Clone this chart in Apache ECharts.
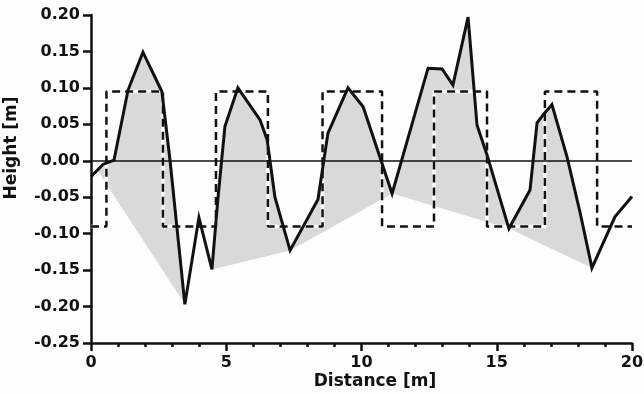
<!DOCTYPE html>
<html>
<head>
<meta charset="utf-8">
<script src="https://cdn.jsdelivr.net/npm/echarts@6/dist/echarts.min.js"></script>
<style>
  html, body { margin: 0; padding: 0; background: #fdfdfb; }
  #profile { width: 644px; height: 394px; }
</style>
</head>
<body>
<div id="profile"></div>
<script>
// measured surface profile
var distance = [0, 0.44, 0.85, 1.37, 1.92, 2.62, 2.92, 3.47, 3.99, 4.47, 4.69, 4.95, 5.43, 6.25, 6.51, 6.8,
  7.36, 8.39, 8.76, 9.5, 10.06, 11.13, 12.46, 12.98, 13.38, 13.94, 14.27, 14.64, 15.45, 16.23, 16.49,
  16.78, 17.04, 17.6, 18.08, 18.52, 19.37, 20];
var height = [-0.022, -0.005, 0.001, 0.097, 0.149, 0.095, 0.001, -0.197, -0.078, -0.149, -0.053, 0.047, 0.1,
  0.056, 0.029, -0.05, -0.123, -0.053, 0.038, 0.1, 0.074, -0.045, 0.127, 0.126, 0.104, 0.197, 0.049,
  0.008, -0.093, -0.04, 0.052, 0.066, 0.077, 0.005, -0.071, -0.147, -0.077, -0.049];

// lower edge of the shaded area
var envDistance = [0.22, 3.47, 3.99, 4.47, 7.36, 11.13, 15.45, 18.52];
var envHeight = [-0.012, -0.197, -0.078, -0.149, -0.123, -0.045, -0.093, -0.147];

// dashed square wave
var stepEdges = [0, 0.57, 2.66, 4.62, 6.54, 8.56, 10.76, 12.68, 14.64, 16.78, 18.71, 20];
var stepLevels = [-0.09, 0.095, -0.09, 0.095, -0.09, 0.095, -0.09, 0.095, -0.09, 0.095, -0.09];

var myChart = echarts.init(document.getElementById('profile'));

var profileData = distance.map(function (d, i) { return [d, height[i]]; });

var stepData = [];
for (var i = 0; i < stepLevels.length; i++) {
  stepData.push([stepEdges[i], stepLevels[i]]);
  stepData.push([stepEdges[i + 1], stepLevels[i]]);
}

// polygon: profile forward, envelope back
var fillPoly = [];
profileData.forEach(function (p) {
  if (p[0] >= envDistance[0] && p[0] <= envDistance[envDistance.length - 1]) fillPoly.push(p);
});
for (var j = envDistance.length - 1; j >= 0; j--) {
  fillPoly.push([envDistance[j], envHeight[j]]);
}

var labelFont = { color: '#111', fontFamily: 'DejaVu Sans', fontWeight: 'bold', fontSize: 16 };

option = {
  backgroundColor: '#fdfdfb',
  animation: false,
  grid: { left: 91, right: 12, top: 15, bottom: 51, containLabel: false, outerBoundsMode: 'none' },
  xAxis: {
    type: 'value',
    min: 0,
    max: 20,
    interval: 5,
    axisLine: { onZero: false, lineStyle: { color: '#111', width: 2.5 } },
    axisTick: { length: 8, lineStyle: { color: '#111', width: 2.5 } },
    minorTick: { show: true, splitNumber: 5, length: 4, lineStyle: { color: '#111', width: 2.5 } },
    splitLine: { show: false },
    axisLabel: Object.assign({ margin: 12 }, labelFont)
  },
  yAxis: {
    type: 'value',
    min: -0.25,
    max: 0.2,
    interval: 0.05,
    axisLine: { show: true, onZero: false, lineStyle: { color: '#111', width: 2.5 } },
    axisTick: { show: true, length: 8, lineStyle: { color: '#111', width: 2.5 } },
    splitLine: { show: false },
    axisLabel: Object.assign({
      margin: 11,
      formatter: function (v) { return v.toFixed(2); }
    }, labelFont)
  },
  graphic: [{
    type: 'text',
    x: 12,
    y: 148,
    rotation: Math.PI / 2,
    style: {
      text: 'Height [m]',
      fill: '#111',
      font: 'bold 17px "DejaVu Sans"',
      align: 'center', verticalAlign: 'middle',
      textAlign: 'center', textVerticalAlign: 'middle'
    }
  }, {
    type: 'text',
    x: 375,
    y: 382,
    style: {
      text: 'Distance [m]',
      fill: '#111',
      font: 'bold 17px "DejaVu Sans"',
      align: 'center', verticalAlign: 'middle',
      textAlign: 'center', textVerticalAlign: 'middle'
    }
  }],
  series: [{
    name: 'shade',
    type: 'custom',
    data: [[0, 0]],
    silent: true,
    renderItem: function (params, api) {
      return {
        type: 'polygon',
        shape: { points: fillPoly.map(function (p) { return api.coord(p); }) },
        style: { fill: '#d9d9d7', stroke: null }
      };
    },
    z: 1
  }, {
    name: 'gap',
    type: 'line',
    data: stepData,
    symbol: 'none',
    silent: true,
    lineStyle: { color: '#fdfdfb', width: 3.5 },
    z: 2
  }, {
    name: 'step',
    type: 'line',
    data: stepData,
    symbol: 'none',
    lineStyle: { color: '#111', width: 2.5, type: [8, 5] },
    z: 3
  }, {
    name: 'profile',
    type: 'line',
    data: profileData,
    symbol: 'none',
    lineStyle: { color: '#111', width: 3, join: 'miter', miterLimit: 6 },
    markLine: {
      silent: true,
      symbol: 'none',
      label: { show: false },
      lineStyle: { color: '#111', width: 1.5, type: 'solid' },
      data: [{ yAxis: 0 }]
    },
    z: 4
  }]
};

myChart.setOption(option);
window.addEventListener('resize', function () {
  myChart.resize();
});
</script>
</body>
</html>
